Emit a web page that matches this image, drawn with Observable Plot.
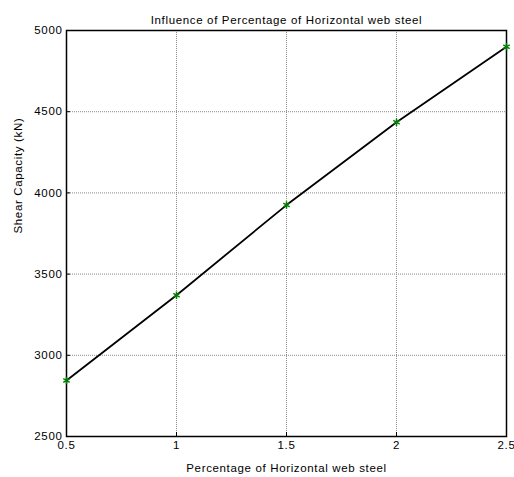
<!DOCTYPE html>
<html>
<head>
<meta charset="utf-8">
<script src="https://cdn.jsdelivr.net/npm/d3@7"></script>
<script src="https://cdn.jsdelivr.net/npm/@observablehq/plot@0.6"></script>
<style>
html,body{margin:0;padding:0;background:#fff;}
svg{font-family:"Liberation Sans",Arial,sans-serif;}
svg text{letter-spacing:0.65px;}
</style>
</head>
<body>
<div id="chart"></div>
<script>
const percentage = [0.5, 1.0, 1.5, 2.0, 2.5];
const shearCapacity = [2845, 3370, 3925, 4435, 4900];
const xTicks = [0.5, 1, 1.5, 2, 2.5];
const yTicks = [2500, 3000, 3500, 4000, 4500, 5000];
const title = "Influence of Percentage of Horizontal web steel";
const xLabel = "Percentage of Horizontal web steel";
const yLabel = "Shear Capacity (kN)";

const data = percentage.map((p, i) => ({p, v: shearCapacity[i]}));

const chart = Plot.plot({
  width: 514,
  height: 477,
  marginLeft: 66,
  marginRight: 8,
  marginTop: 30,
  marginBottom: 41,
  style: {fontFamily: "'Liberation Sans', Arial, sans-serif", fontSize: "11.5px", color: "#000", background: "#fff", overflow: "visible"},
  x: {domain: [0.5, 2.5], ticks: xTicks, tickFormat: d => String(d), label: null},
  y: {domain: [2500, 5000], ticks: yTicks, tickFormat: d => String(d), label: null},
  marks: [
    Plot.ruleX(xTicks.slice(1, -1), {stroke: "#8a8a8a", strokeDasharray: "1,1"}),
    Plot.ruleY(yTicks.slice(1, -1), {stroke: "#8a8a8a", strokeDasharray: "1,1"}),
    Plot.axisX({ticks: xTicks, tickSize: 0, tickPadding: 4, tickFormat: d => String(d), fontSize: 11.5, fill: "#000"}),
    Plot.axisY({ticks: yTicks, tickSize: 0, tickPadding: 4, tickFormat: d => String(d), fontSize: 11.5, fill: "#000"}),
    Plot.axisX({ticks: xTicks.slice(1, -1), tickSize: -4, text: null, stroke: "#000"}),
    Plot.axisY({ticks: yTicks.slice(1, -1), tickSize: -4, text: null, stroke: "#000"}),
    Plot.frame({stroke: "#000", strokeWidth: 1.5}),
    Plot.line(data, {x: "p", y: "v", stroke: "#000", strokeWidth: 1.8}),
    Plot.dot(data, {x: "p", y: "v", symbol: "asterisk", r: 3.5, stroke: "#008000", strokeWidth: 1.5}),
    Plot.text([title], {frameAnchor: "top", dy: -15, text: d => d, fontSize: 11.5, fill: "#000"}),
    Plot.text([xLabel], {frameAnchor: "bottom", dy: 35, text: d => d, fontSize: 11.5, fill: "#000"}),
    Plot.text([yLabel], {frameAnchor: "left", dx: -48, rotate: -90, text: d => d, fontSize: 11.5, fill: "#000"})
  ]
});
document.getElementById("chart").appendChild(chart);
</script>
</body>
</html>
